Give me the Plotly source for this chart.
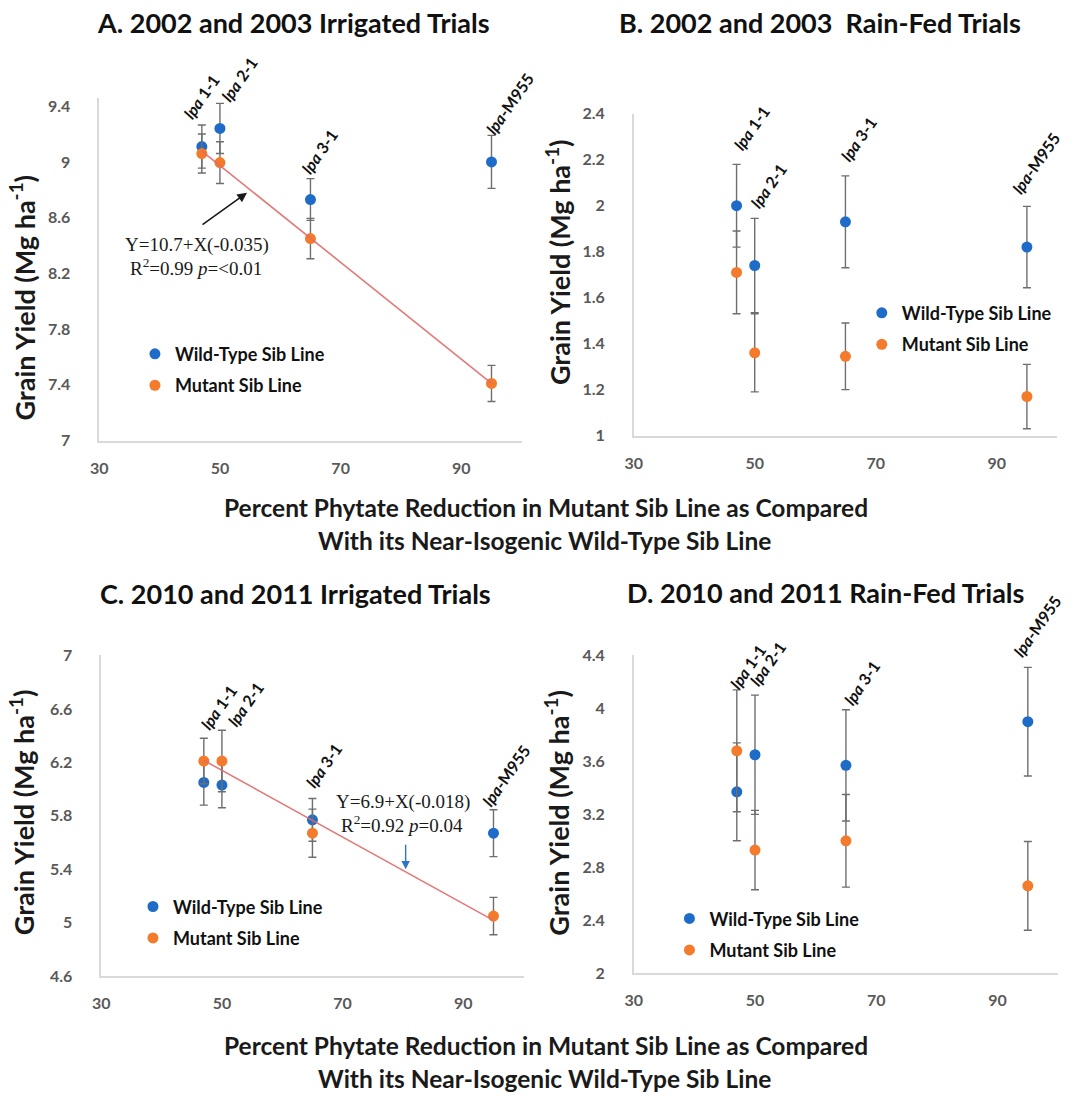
import numpy as np
import plotly.graph_objects as go

W, H = 1076, 1095

# ---------------- data ----------------
phytate_reduction = [47, 50, 65, 95]
line_labels = ["<i>lpa</i> 1-1", "<i>lpa</i> 2-1", "<i>lpa</i> 3-1", "<i>lpa</i>-M955"]
series_names = ["Wild-Type Sib Line", "Mutant Sib Line"]

a_wt = [9.11, 9.24, 8.73, 9.00]
a_wt_err = [0.155, 0.18, 0.15, 0.19]
a_mut = [9.06, 8.995, 8.45, 7.41]
a_mut_err = [0.14, 0.15, 0.145, 0.13]

b_wt = [2.00, 1.74, 1.93, 1.82]
b_wt_err = [0.18, 0.205, 0.20, 0.177]
b_mut = [1.71, 1.36, 1.345, 1.17]
b_mut_err = [0.18, 0.17, 0.145, 0.14]

c_wt = [6.05, 6.03, 5.77, 5.67]
c_wt_err = [0.17, 0.17, 0.16, 0.175]
c_mut = [6.21, 6.21, 5.67, 5.05]
c_mut_err = [0.17, 0.23, 0.18, 0.14]

d_wt = [3.37, 3.65, 3.57, 3.90]
d_wt_err = [0.37, 0.45, 0.42, 0.41]
d_mut = [3.68, 2.93, 3.00, 2.66]
d_mut_err = [0.46, 0.30, 0.35, 0.335]

x_tickvals = [30, 50, 70, 90]
a_yticks = [7, 7.4, 7.8, 8.2, 8.6, 9, 9.4]
b_yticks = [1, 1.2, 1.4, 1.6, 1.8, 2, 2.2, 2.4]
c_yticks = [4.6, 5, 5.4, 5.8, 6.2, 6.6, 7]
d_yticks = [2, 2.4, 2.8, 3.2, 3.6, 4, 4.4]

titles = ["A. 2002 and 2003 Irrigated Trials", "B. 2002 and 2003  Rain-Fed Trials",
          "C. 2010 and 2011 Irrigated Trials", "D. 2010 and 2011 Rain-Fed Trials"]
y_title = "Grain Yield (Mg ha<sup>-1</sup>)"
x_title_1 = "Percent Phytate Reduction in Mutant Sib Line as Compared"
x_title_2 = "With its Near-Isogenic Wild-Type Sib Line"
eq_a = ["Y=10.7+X(-0.035)", "R<sup>2</sup>=0.99 <i>p</i>=&lt;0.01"]
eq_c = ["Y=6.9+X(-0.018)", "R<sup>2</sup>=0.92 <i>p</i>=0.04"]

# ---------------- style ----------------
BLUE = "#1f6cc8"
ORANGE = "#f47a2c"
ERR = "#6e6e6e"
TREND = "#e06b6b"
AXIS = "#d9d9d9"
TICK = "#595959"
FONT = "Lato"


def fx(px):
    return px / W


def fy(py):
    return 1 - (547 + (py - 547) * 1.017) / H


panels = [
    dict(wt=a_wt, wte=a_wt_err, mut=a_mut, mute=a_mut_err, yt=a_yticks, dx=-5,
         xd=(96, 522), yd=(97, 440), yr=(7, 9.46), trend=True,
         title_pos=(287, 22), ytitle_pos=(13, 297),
         lab_pos=[(199, 96), (237, 79), (318, 151), (510, 103)],
         leg_pos=(132, 335)),
    dict(wt=b_wt, wte=b_wt_err, mut=b_mut, mute=b_mut_err, yt=b_yticks, dx=-2,
         xd=(632, 1059), yd=(113, 435), yr=(1, 2.4), trend=False,
         title_pos=(818, 22), ytitle_pos=(553, 261),
         lab_pos=[(751, 127), (768, 185), (859, 138), (1038, 162)],
         leg_pos=(862, 294)),
    dict(wt=c_wt, wte=c_wt_err, mut=c_mut, mute=c_mut_err, yt=c_yticks, dx=-5,
         xd=(98, 524), yd=(655, 976), yr=(4.6, 7.0), trend=True,
         title_pos=(289, 593), ytitle_pos=(13, 812),
         lab_pos=[(216, 707), (243, 704), (322, 765), (506, 775)],
         leg_pos=(130, 888)),
    dict(wt=d_wt, wte=d_wt_err, mut=d_mut, mute=d_mut_err, yt=d_yticks, dx=-2,
         xd=(632, 1060), yd=(655, 973), yr=(2.0, 4.4), trend=False,
         title_pos=(823, 592), ytitle_pos=(553, 812),
         lab_pos=[(747, 666), (767, 663), (862, 682), (1039, 625)],
         leg_pos=(668, 900)),
]

fig = go.Figure()
annotations = []
layout_extra = {}

for i, p in enumerate(panels):
    n = "" if i == 0 else str(i + 1)
    xa, ya = "x" + n, "y" + n
    leg = "legend" + n
    dx = p["dx"]
    for name, vals, errs, col in [(series_names[0], p["wt"], p["wte"], BLUE),
                                  (series_names[1], p["mut"], p["mute"], ORANGE)]:
        fig.add_trace(go.Scatter(
            x=phytate_reduction, y=vals, mode="markers", name=name,
            xaxis=xa, yaxis=ya, legend=leg, legendgroup=name + n,
            marker=dict(color=col, size=11, line=dict(width=0)),
            error_y=dict(type="data", array=errs, color=ERR, thickness=1.4, width=4),
        ))
    if p["trend"]:
        k, b = np.polyfit(phytate_reduction, p["mut"], 1)
        xs = np.array([min(phytate_reduction), max(phytate_reduction)], dtype=float)
        fig.add_trace(go.Scatter(
            x=xs, y=k * xs + b, mode="lines", xaxis=xa, yaxis=ya, showlegend=False,
            line=dict(color=TREND, width=1.6), opacity=0.9,
        ))

    layout_extra["xaxis" + n] = dict(
        domain=[fx(p["xd"][0] + dx), fx(p["xd"][1] + dx)], range=[30, 100], anchor=ya,
        tickvals=x_tickvals, ticktext=[str(v) for v in x_tickvals],
        showline=True, linecolor=AXIS, linewidth=1.5, showgrid=False, zeroline=False,
        ticks="", ticklabelstandoff=12,
        tickfont=dict(family=FONT, size=16, color=TICK, weight="bold"),
    )
    layout_extra["yaxis" + n] = dict(
        domain=[fy(p["yd"][1]), fy(p["yd"][0])], range=list(p["yr"]), anchor=xa,
        tickvals=p["yt"], ticktext=[f"{v:g}" for v in p["yt"]],
        showline=True, linecolor=AXIS, linewidth=1.5, showgrid=False, zeroline=False,
        ticks="", ticklabelstandoff=24,
        tickfont=dict(family=FONT, size=16, color=TICK, weight="bold"),
    )
    layout_extra[leg] = dict(
        x=fx(p["leg_pos"][0] + dx), y=fy(p["leg_pos"][1]), xanchor="left", yanchor="top",
        bgcolor="rgba(0,0,0,0)", tracegroupgap=5,
        font=dict(family=FONT, size=18, color="#111111", weight="bold"),
    )

    annotations.append(dict(
        x=fx(p["title_pos"][0]), y=fy(p["title_pos"][1]), xref="paper", yref="paper",
        text="<b>" + titles[i] + "</b>", showarrow=False, xanchor="center", yanchor="middle",
        font=dict(family=FONT, size=27, color="#111111"),
    ))
    annotations.append(dict(
        x=fx(p["ytitle_pos"][0]), y=fy(p["ytitle_pos"][1]), xref="paper", yref="paper",
        text=y_title, showarrow=False, textangle=-90, xanchor="center", yanchor="middle",
        font=dict(family=FONT, size=27, color="#1a1a1a", weight="bold"),
    ))
    for lab, (lx, ly) in zip(line_labels, p["lab_pos"]):
        annotations.append(dict(
            x=fx(lx + dx), y=fy(ly), xref="paper", yref="paper", text="<b>" + lab + "</b>",
            showarrow=False, textangle=-55, xanchor="center", yanchor="middle",
            font=dict(family=FONT, size=16, color="#111111"),
        ))

for txt, (ex, ey) in zip(eq_a, [(190, 244), (189, 266)]):
    annotations.append(dict(x=fx(ex), y=fy(ey), xref="paper", yref="paper", text=txt,
                            showarrow=False, xanchor="center", yanchor="middle",
                            font=dict(family="Liberation Serif", size=19, color="#1a1a1a")))
for txt, (ex, ey) in zip(eq_c, [(397, 802), (396, 824)]):
    annotations.append(dict(x=fx(ex), y=fy(ey), xref="paper", yref="paper", text=txt,
                            showarrow=False, xanchor="center", yanchor="middle",
                            font=dict(family="Liberation Serif", size=19, color="#1a1a1a")))
annotations.append(dict(x=fx(240), y=fy(192), xref="paper", yref="paper", text="",
                        showarrow=True, ax=-46, ay=33, arrowhead=2, arrowsize=1.2,
                        arrowwidth=1.6, arrowcolor="#1a1a1a"))
annotations.append(dict(x=fx(400), y=fy(869), xref="paper", yref="paper", text="",
                        showarrow=True, ax=0, ay=-26, arrowhead=2, arrowsize=1.2,
                        arrowwidth=1.4, arrowcolor="#2e75c6"))

for ly1, ly2 in [(507, 540), (1045, 1078)]:
    annotations.append(dict(x=fx(542), y=fy(ly1), xref="paper", yref="paper",
                            text="<b>" + x_title_1 + "</b>", showarrow=False,
                            xanchor="center", yanchor="middle",
                            font=dict(family=FONT, size=24.5, color="#1a1a1a")))
    annotations.append(dict(x=fx(540), y=fy(ly2), xref="paper", yref="paper",
                            text="<b>" + x_title_2 + "</b>", showarrow=False,
                            xanchor="center", yanchor="middle",
                            font=dict(family=FONT, size=24.5, color="#1a1a1a")))

fig.update_layout(
    width=W, height=H, autosize=False,
    margin=dict(l=0, r=0, t=0, b=0, pad=0),
    paper_bgcolor="white", plot_bgcolor="white",
    annotations=annotations,
    **layout_extra,
)

fig.write_html(
    "out.html",
    config={"displayModeBar": False},
    post_script="document.body.style.margin='0';document.body.style.padding='0';",
)
